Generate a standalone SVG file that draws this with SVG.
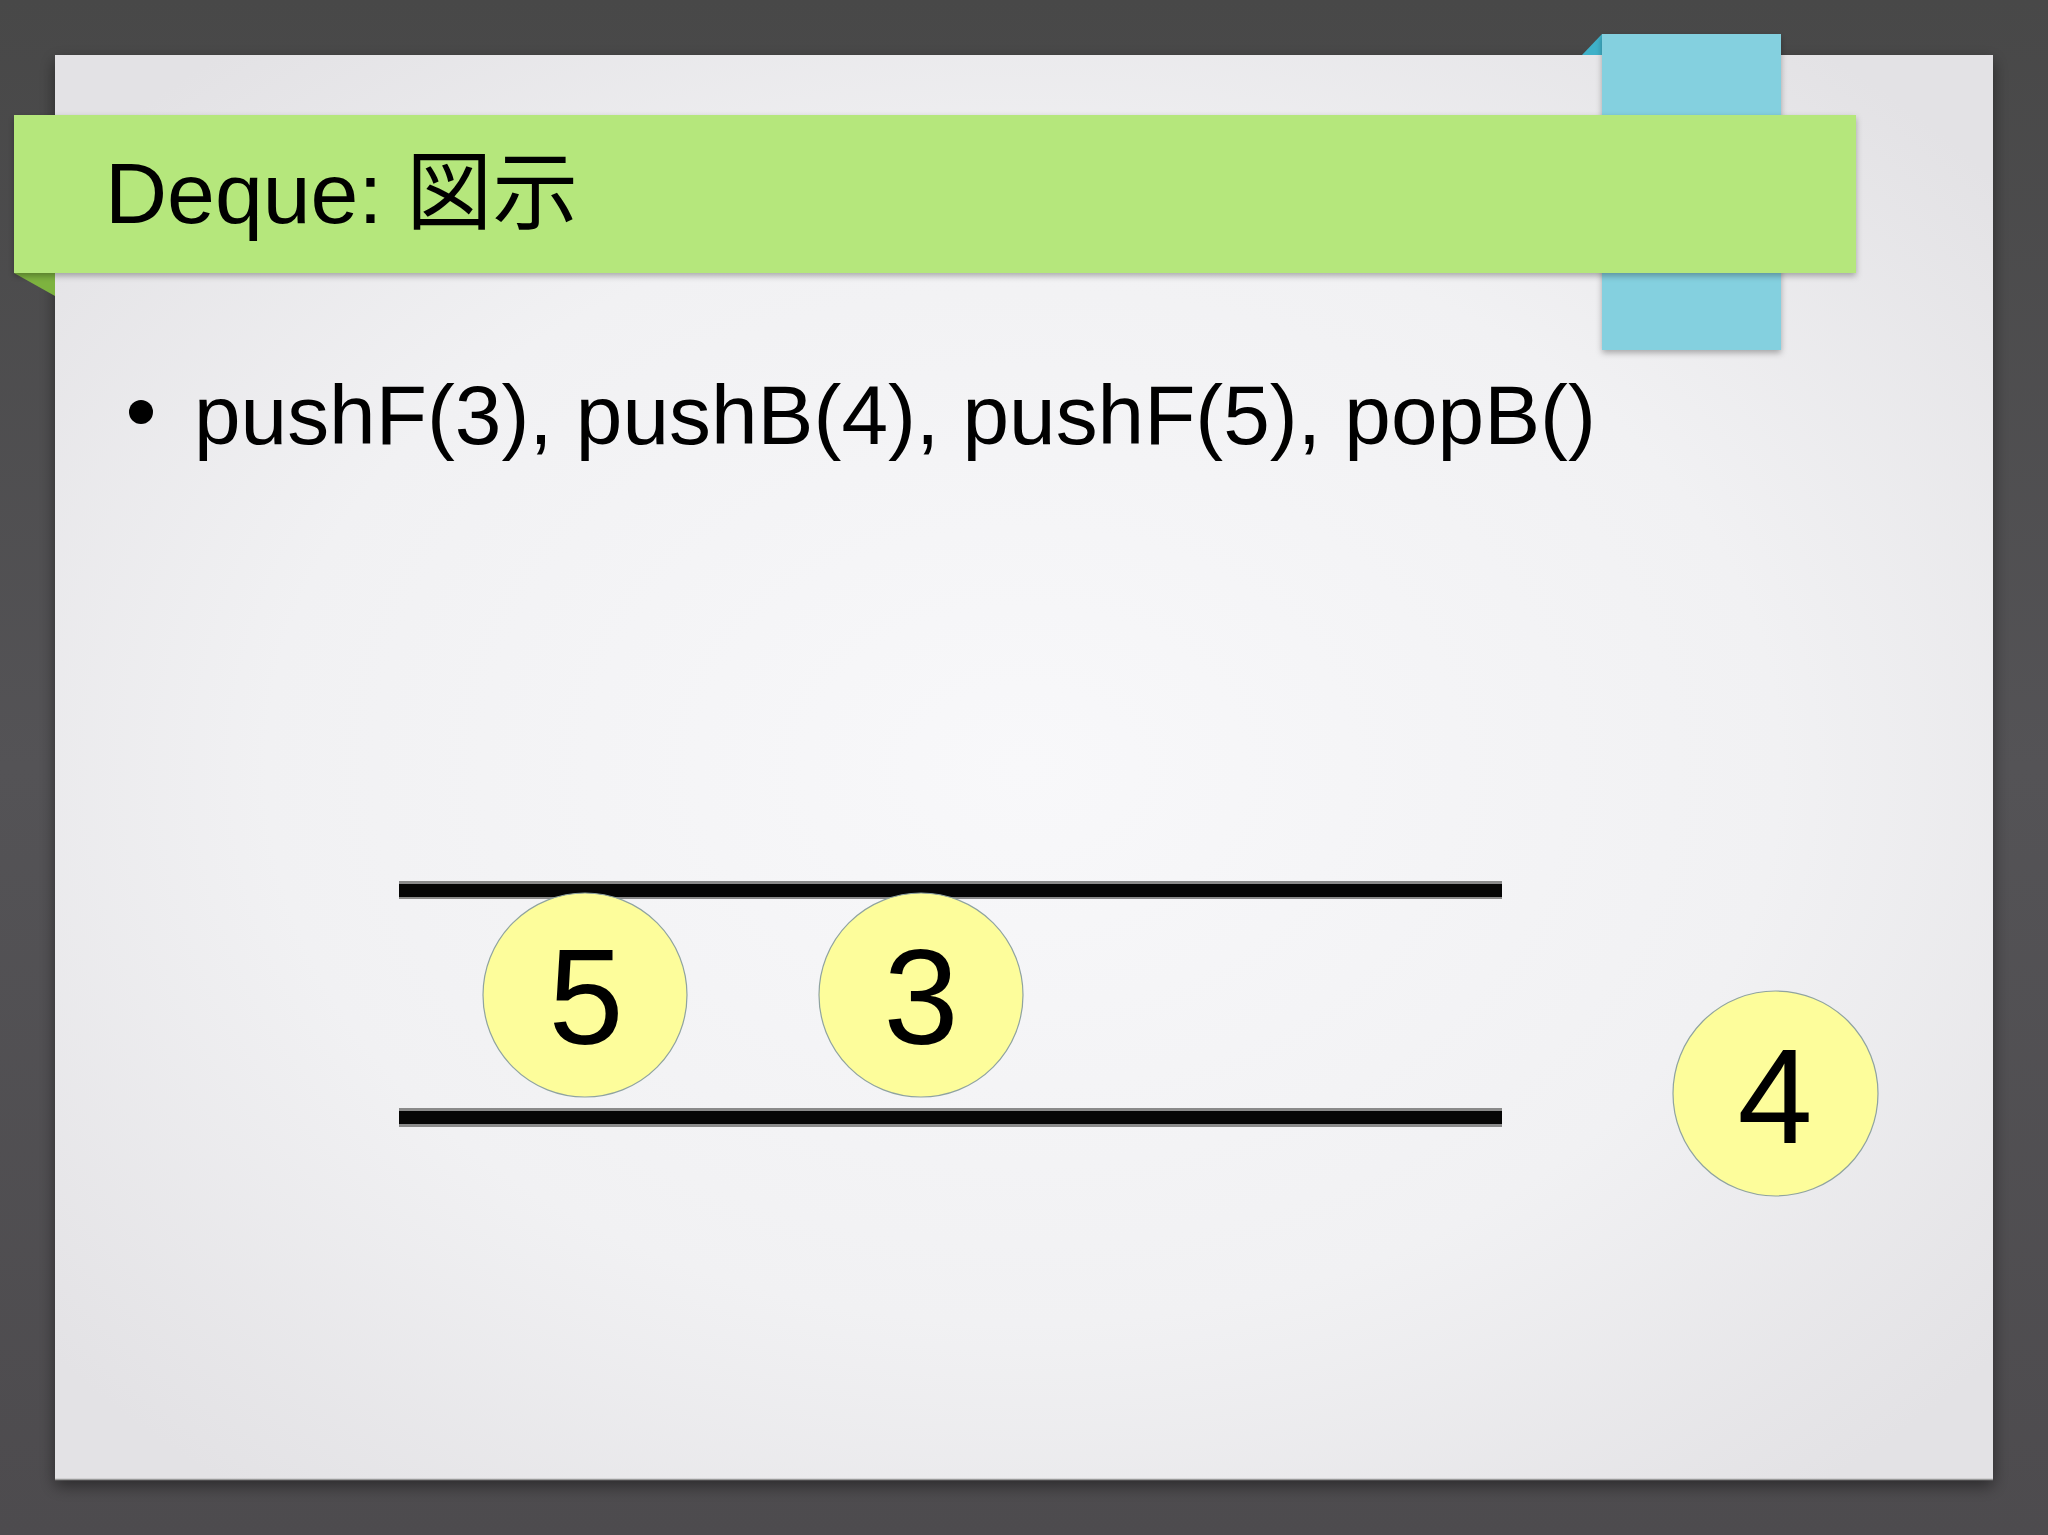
<svg xmlns="http://www.w3.org/2000/svg" width="2048" height="1535" viewBox="0 0 2048 1535">
  <defs>
    <linearGradient id="bgGrad" x1="0" y1="0" x2="0" y2="1">
      <stop offset="0" stop-color="#484848"/>
      <stop offset="0.5" stop-color="#545356"/>
      <stop offset="1" stop-color="#4d4b4e"/>
    </linearGradient>
    <radialGradient id="slideGrad" cx="0.5" cy="0.5" r="0.65">
      <stop offset="0" stop-color="#f8f8fa"/>
      <stop offset="0.6" stop-color="#f1f1f3"/>
      <stop offset="1" stop-color="#e3e2e5"/>
    </radialGradient>
    <filter id="shadow" x="-10%" y="-10%" width="120%" height="125%">
      <feDropShadow dx="0" dy="6" stdDeviation="8" flood-color="#000" flood-opacity="0.45"/>
    </filter>
    <filter id="softShadow" x="-5%" y="-20%" width="110%" height="150%">
      <feDropShadow dx="0" dy="3" stdDeviation="3" flood-color="#000" flood-opacity="0.3"/>
    </filter>
  </defs>
  <style>
    .title { font-family: "Liberation Sans", "Noto Sans CJK JP", sans-serif; font-size: 86px; fill: #000; }
    .body { font-family: "Liberation Sans", "Noto Sans CJK JP", sans-serif; font-size: 83.8px; fill: #000; }
    .ball { fill: #fdfd9b; stroke: #8fa3a0; stroke-width: 1.2; }
    .digit { font-family: "Liberation Sans", Arial, sans-serif; font-size: 135px; fill: #000; text-anchor: middle; }
    .wallEdge { fill: #8a8a8a; }
    .wallCore { fill: #050505; }
  </style>

  <rect x="0" y="0" width="2048" height="1535" fill="url(#bgGrad)"/>

  <g id="slide">
    <rect x="55" y="55" width="1938" height="1425" fill="url(#slideGrad)" filter="url(#shadow)"/>
    <line x1="55" y1="1479.5" x2="1993" y2="1479.5" stroke="#9a9a9a" stroke-width="1.5"/>
  </g>

  <g id="ribbon">
    <polygon points="1582,55 1602,34 1602,55" fill="#3fb1c9"/>
    <rect x="1602" y="34" width="179" height="316" fill="#84d0df" filter="url(#softShadow)"/>
  </g>

  <g id="title-band">
    <polygon points="14,273 55,273 55,296" fill="#7db33f"/>
    <rect x="14" y="115" width="1842" height="158" fill="#b5e77c" filter="url(#softShadow)"/>
    <text class="title" x="105" y="223">Deque: 図示</text>
  </g>

  <g id="bullet">
    <circle cx="141" cy="412" r="12" fill="#000"/>
    <text class="body" x="194" y="444">pushF(3), pushB(4), pushF(5), popB()</text>
  </g>

  <g id="deque-walls">
    <rect class="wallEdge" x="399" y="881" width="1103" height="18"/>
    <rect class="wallCore" x="399" y="884" width="1103" height="13"/>
    <rect class="wallEdge" x="399" y="1108" width="1103" height="19"/>
    <rect class="wallCore" x="399" y="1111" width="1103" height="13"/>
  </g>

  <g id="node-5">
    <circle class="ball" cx="585" cy="995" r="102"/>
    <text class="digit" x="586" y="1044">5</text>
  </g>
  <g id="node-3">
    <circle class="ball" cx="921" cy="995" r="102"/>
    <text class="digit" x="921" y="1044">3</text>
  </g>
  <g id="node-4">
    <circle class="ball" cx="1775.5" cy="1093.5" r="102.5"/>
    <text class="digit" x="1775" y="1143">4</text>
  </g>
</svg>
